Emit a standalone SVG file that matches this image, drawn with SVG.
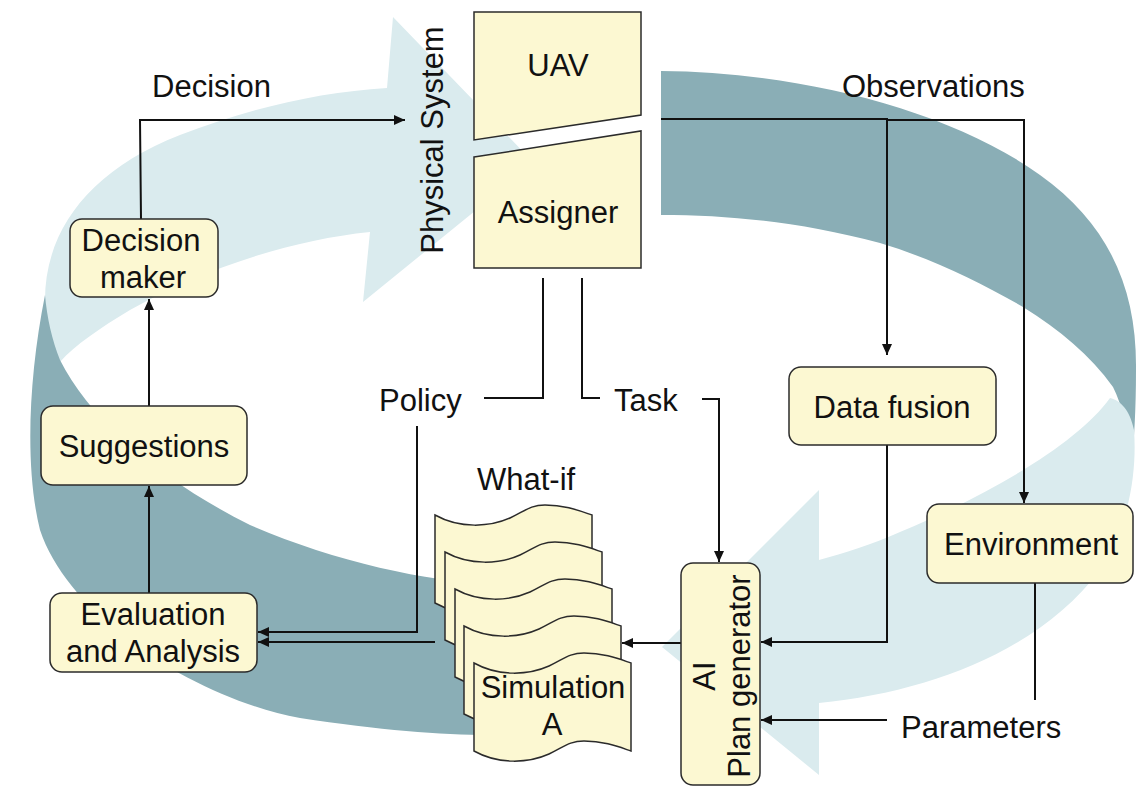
<svg xmlns="http://www.w3.org/2000/svg" xmlns:xlink="http://www.w3.org/1999/xlink" width="1141" height="787" viewBox="0 0 1141 787">
  <defs>
    <style>
      .box { fill: #fcf8d2; stroke: #2b2b2b; stroke-width: 1.5; }
      .lbl { font-family: "Liberation Sans", Arial, sans-serif; font-size: 31px; fill: #111; }
      .mid { text-anchor: middle; }
      .wire { fill: none; stroke: #111; stroke-width: 2; }
      .arr { marker-end: url(#head); }
      .front { fill: #daebee; }
      .back { fill: #8aaeb6; }
    </style>
    <marker id="head" markerUnits="userSpaceOnUse" markerWidth="11" markerHeight="10" refX="11" refY="5" orient="auto">
      <path d="M0,0 L11,5 L0,10 z" fill="#111"/>
    </marker>
    <!-- punched-tape page used for the simulation stack -->
    <path id="page" d="M0,0 C25,14 55,12 75,3 C90,-4 95,-10 110,-10 C130,-10 145,-4 157,0 L157,88 C145,84 130,78 110,78 C95,78 90,84 75,91 C55,100 25,102 0,88 Z"/>
  </defs>

  <!-- cycle ribbon in the background -->
  <g id="ribbon">
    <path class="front" d="M45,300 C45,230 90,170 180,135 C250,108 320,92 387,88 L393,17 L534,163 L363,302 L370,232 C290,240 200,270 130,310 C100,328 75,345 60,362 C52,345 46,322 45,300 Z"/>
    <path class="back" d="M661,71 C800,72 950,110 1040,175 C1110,225 1137,290 1136,370 C1136,410 1134,440 1132,462 C1128,430 1122,405 1113,387 C1090,355 1060,330 1023,307 C980,282 930,258 880,243 C800,222 730,215 661,215 Z"/>
    <path class="front" d="M1110,398 C1080,440 1000,490 900,532 C870,545 845,553 819,560 L819,490 L662,647 L819,775 L819,703 C930,692 1040,650 1100,570 C1130,525 1137,470 1134,430 C1130,410 1120,400 1110,398 Z"/>
    <path class="back" d="M45,295 C28,380 25,470 40,530 C70,620 200,700 300,718 C380,730 440,735 490,735 L490,583 C430,583 330,560 250,525 C160,480 90,420 60,360 C52,340 47,318 45,295 Z"/>
  </g>

  <!-- connectors -->
  <g id="connectors">
    <path class="wire arr" d="M141,219 L140,120 L405,120"/>
    <path class="wire arr" d="M661,119 L887,119 L887,355"/>
    <path class="wire arr" d="M887,120 L1024,120 L1024,503"/>
    <path class="wire" d="M543,278 L543,398 L484,398"/>
    <path class="wire" d="M582,278 L582,398 L600,398"/>
    <path class="wire arr" d="M702,399 L719,399 L719,562"/>
    <path class="wire arr" d="M417,426 L417,632 L258,632"/>
    <path class="wire arr" d="M435,642 L258,642"/>
    <path class="wire arr" d="M681,643 L622,643"/>
    <path class="wire arr" d="M887,445 L887,642 L761,642"/>
    <path class="wire" d="M1035,583 L1035,700"/>
    <path class="wire arr" d="M887,720 L761,720"/>
    <path class="wire arr" d="M149,593 L149,486"/>
    <path class="wire arr" d="M149,406 L149,299"/>
  </g>

  <!-- free labels -->
  <g id="labels">
    <text class="lbl" x="152" y="97">Decision</text>
    <text class="lbl" x="842" y="97">Observations</text>
    <text class="lbl" x="379" y="411">Policy</text>
    <text class="lbl" x="614" y="411">Task</text>
    <text class="lbl" x="477" y="490">What-if</text>
    <text class="lbl" x="901" y="738">Parameters</text>
    <text class="lbl mid" transform="translate(443,140) rotate(-90)">Physical System</text>
  </g>

  <g id="uav">
    <path class="box" d="M474,12 L641,12 L641,115 L474,140 Z"/>
    <text class="lbl mid" x="558" y="76">UAV</text>
  </g>

  <g id="assigner">
    <path class="box" d="M474,157 L641,131 L641,268 L474,268 Z"/>
    <text class="lbl mid" x="558" y="223">Assigner</text>
  </g>

  <g id="decision-maker">
    <rect class="box" x="70" y="219" width="148" height="78" rx="12"/>
    <text class="lbl mid" x="141" y="251">Decision</text>
    <text class="lbl mid" x="143" y="288">maker</text>
  </g>

  <g id="suggestions">
    <rect class="box" x="41" y="406" width="206" height="79" rx="12"/>
    <text class="lbl mid" x="144" y="457">Suggestions</text>
  </g>

  <g id="evaluation">
    <rect class="box" x="50" y="593" width="207" height="79" rx="12"/>
    <text class="lbl mid" x="153" y="625">Evaluation</text>
    <text class="lbl mid" x="153" y="662">and Analysis</text>
  </g>

  <g id="data-fusion">
    <rect class="box" x="789" y="367" width="207" height="78" rx="12"/>
    <text class="lbl mid" x="892" y="418">Data fusion</text>
  </g>

  <g id="environment">
    <rect class="box" x="927" y="504" width="206" height="79" rx="12"/>
    <text class="lbl mid" x="1031" y="555">Environment</text>
  </g>

  <g id="plan-generator">
    <rect class="box" x="681" y="563" width="79" height="222" rx="12"/>
    <text class="lbl mid" transform="translate(715,676) rotate(-90)">AI</text>
    <text class="lbl mid" transform="translate(750,676) rotate(-90)">Plan generator</text>
  </g>

  <g id="simulation-stack">
    <use xlink:href="#page" class="box" transform="translate(435,515)"/>
    <use xlink:href="#page" class="box" transform="translate(445,552)"/>
    <use xlink:href="#page" class="box" transform="translate(455,589)"/>
    <use xlink:href="#page" class="box" transform="translate(464,626)"/>
    <use xlink:href="#page" class="box" transform="translate(474,663)"/>
    <text class="lbl mid" x="553" y="698">Simulation</text>
    <text class="lbl mid" x="552" y="735">A</text>
  </g>
</svg>
